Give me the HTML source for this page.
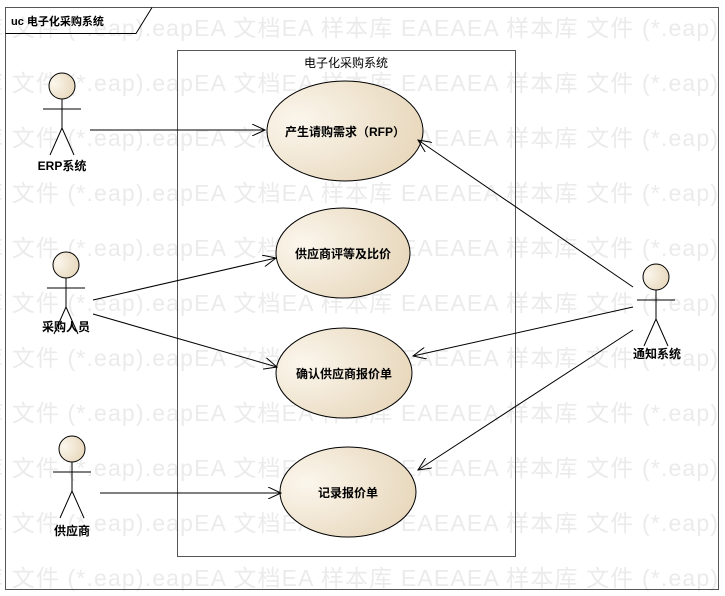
<!DOCTYPE html>
<html><head><meta charset="utf-8"><style>
body{margin:0;background:#fff;width:725px;height:596px;overflow:hidden}
svg{display:block}
.wm{font-family:"Liberation Sans","Noto Sans CJK SC",sans-serif;font-size:23px;fill:#ebebeb}
.t{font-family:"Liberation Sans","Noto Sans CJK SC",sans-serif;font-size:12px;font-weight:bold;fill:#000}
</style></head><body>
<svg width="725" height="596" viewBox="0 0 725 596">
<defs>
<radialGradient id="g" cx="0.2" cy="0.4" r="0.9">
<stop offset="0" stop-color="#fbf6ec"/><stop offset="1" stop-color="#e6d5b8"/></radialGradient>
<marker id="a" markerWidth="14" markerHeight="12" refX="13" refY="6" orient="auto" markerUnits="userSpaceOnUse">
<path d="M0,0 L13,6 L0,12" fill="none" stroke="#000" stroke-width="1"/></marker>
</defs>
<g class="wm">
<text x="-20" y="36" textLength="738" lengthAdjust="spacing">库 文件 (*.eap).eapEA 文档EA 样本库   EAEAEA 样本库 文件 (*.eap)</text>
<text x="-20" y="91" textLength="738" lengthAdjust="spacing">库 文件 (*.eap).eapEA 文档EA 样本库   EAEAEA 样本库 文件 (*.eap)</text>
<text x="-20" y="146" textLength="738" lengthAdjust="spacing">库 文件 (*.eap).eapEA 文档EA 样本库   EAEAEA 样本库 文件 (*.eap)</text>
<text x="-20" y="201" textLength="738" lengthAdjust="spacing">库 文件 (*.eap).eapEA 文档EA 样本库   EAEAEA 样本库 文件 (*.eap)</text>
<text x="-20" y="256" textLength="738" lengthAdjust="spacing">库 文件 (*.eap).eapEA 文档EA 样本库   EAEAEA 样本库 文件 (*.eap)</text>
<text x="-20" y="311" textLength="738" lengthAdjust="spacing">库 文件 (*.eap).eapEA 文档EA 样本库   EAEAEA 样本库 文件 (*.eap)</text>
<text x="-20" y="366" textLength="738" lengthAdjust="spacing">库 文件 (*.eap).eapEA 文档EA 样本库   EAEAEA 样本库 文件 (*.eap)</text>
<text x="-20" y="421" textLength="738" lengthAdjust="spacing">库 文件 (*.eap).eapEA 文档EA 样本库   EAEAEA 样本库 文件 (*.eap)</text>
<text x="-20" y="476" textLength="738" lengthAdjust="spacing">库 文件 (*.eap).eapEA 文档EA 样本库   EAEAEA 样本库 文件 (*.eap)</text>
<text x="-20" y="531" textLength="738" lengthAdjust="spacing">库 文件 (*.eap).eapEA 文档EA 样本库   EAEAEA 样本库 文件 (*.eap)</text>
<text x="-20" y="586" textLength="738" lengthAdjust="spacing">库 文件 (*.eap).eapEA 文档EA 样本库   EAEAEA 样本库 文件 (*.eap)</text>
</g>
<rect x="5.5" y="7.5" width="713" height="582" fill="none" stroke="#555"/>
<path d="M5.5,33.5 H136 L152,7.5" fill="none" stroke="#000"/>
<text x="11" y="25" font-family="Liberation Sans,Noto Sans CJK SC,sans-serif" font-size="11" font-weight="bold">uc  电子化采购系统</text>
<rect x="177.5" y="50.5" width="338" height="506" fill="none" stroke="#555"/>
<text x="346" y="67" text-anchor="middle" font-family="Liberation Sans,Noto Sans CJK SC,sans-serif" font-size="12">电子化采购系统</text>
<g stroke="#000" stroke-width="1">
<ellipse cx="345" cy="131" rx="78" ry="50" fill="url(#g)"/>
<ellipse cx="343" cy="253" rx="67" ry="45" fill="url(#g)"/>
<ellipse cx="344" cy="373" rx="68" ry="45" fill="url(#g)"/>
<ellipse cx="348" cy="492" rx="68" ry="45" fill="url(#g)"/>
</g>
<text class="t" x="345" y="136" text-anchor="middle">产生请购需求（RFP）</text>
<text class="t" x="343" y="258" text-anchor="middle">供应商评等及比价</text>
<text class="t" x="344" y="378" text-anchor="middle">确认供应商报价单</text>
<text class="t" x="348" y="497" text-anchor="middle">记录报价单</text>
<g stroke="#000" fill="none">
<line x1="90" y1="130" x2="265" y2="130" marker-end="url(#a)"/>
<line x1="93" y1="300" x2="276" y2="258" marker-end="url(#a)"/>
<line x1="93" y1="314" x2="277" y2="367" marker-end="url(#a)"/>
<line x1="100" y1="493" x2="281" y2="493" marker-end="url(#a)"/>
<line x1="633" y1="287" x2="418" y2="140" marker-end="url(#a)"/>
<line x1="633" y1="307" x2="413" y2="356" marker-end="url(#a)"/>
<line x1="633" y1="330" x2="418" y2="470" marker-end="url(#a)"/>
</g>
<g stroke="#000" fill="url(#g)">
<g transform="translate(62,86)"><circle r="13"/><path d="M0,13V42M-19,23H19M0,42L-12,69M0,42L12,69" fill="none"/></g>
<g transform="translate(66,265)"><circle r="13"/><path d="M0,13V42M-19,23H19M0,42L-12,69M0,42L12,69" fill="none"/></g>
<g transform="translate(72,449)"><circle r="13"/><path d="M0,13V42M-19,23H19M0,42L-12,69M0,42L12,69" fill="none"/></g>
<g transform="translate(656,277)"><circle r="13"/><path d="M0,13V42M-19,23H19M0,42L-12,69M0,42L12,69" fill="none"/></g>
</g>
<text class="t" x="62" y="170" text-anchor="middle">ERP系统</text>
<text class="t" x="66" y="331" text-anchor="middle">采购人员</text>
<text class="t" x="72" y="535" text-anchor="middle">供应商</text>
<text class="t" x="657" y="358" text-anchor="middle">通知系统</text>
</svg>
</body></html>
